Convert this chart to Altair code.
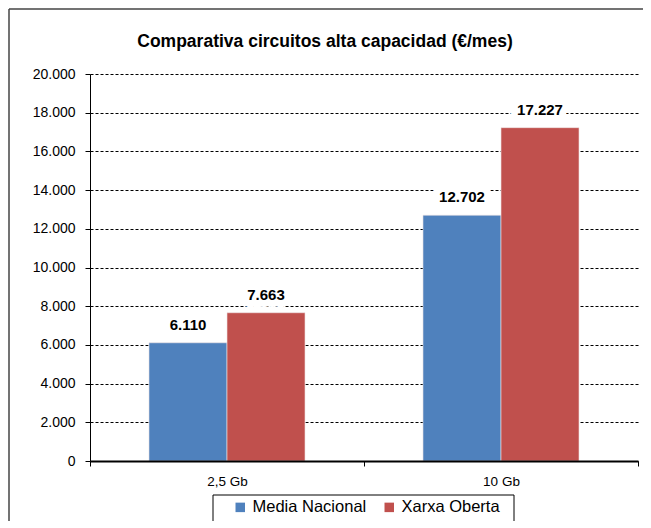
import altair as alt
import pandas as pd

categories = ["2,5 Gb", "10 Gb"]
series = ["Media Nacional", "Xarxa Oberta"]
media_nacional = [6110, 12702]
xarxa_oberta = [7663, 17227]
colors = ["#4F81BD", "#C0504D"]
y_ticks = [0, 2000, 4000, 6000, 8000, 10000, 12000, 14000, 16000, 18000, 20000]
title_text = "Comparativa circuitos alta capacidad (€/mes)"

rows = []
for i, c in enumerate(categories):
    rows.append({"cat": c, "serie": series[0], "valor": media_nacional[i]})
    rows.append({"cat": c, "serie": series[1], "valor": xarxa_oberta[i]})
df = pd.DataFrame(rows)

FONT = "Liberation Sans"
W, H = 548, 387
fmt = "replace(format(datum.valor, ','), ',', '.')"

x_enc = alt.X(
    "cat:N", sort=categories,
    scale=alt.Scale(paddingInner=0, paddingOuter=0),
    axis=alt.Axis(title=None, labelAngle=0, tickBand="extent", grid=False,
                  domainColor="black", domainWidth=2, tickColor="black",
                  tickSize=5, tickWidth=1, labelPadding=8, labelFontSize=13.5,
                  labelColor="black", labelFont=FONT, zindex=1),
)
xo_enc = alt.XOffset("serie:N", sort=series,
                     scale=alt.Scale(paddingInner=0, paddingOuter=0.756))
y_enc = alt.Y(
    "valor:Q",
    scale=alt.Scale(domain=[0, 20000], nice=False),
    axis=alt.Axis(values=y_ticks, tickCount=20, title=None, labelOverlap=False,
                  labelExpr="replace(format(datum.value, ','), ',', '.')",
                  grid=True, gridColor="black", gridDash=[3, 2], gridWidth=1,
                  domainColor="black", domainWidth=1, tickColor="black",
                  tickSize=5, labelPadding=10, labelFontSize=14,
                  labelColor="black", labelFont=FONT),
)

base = alt.Chart(df).encode(x=x_enc, xOffset=xo_enc, y=y_enc)

bars = base.mark_bar(stroke="#f0e6e6", strokeWidth=0.6).encode(
    color=alt.Color(
        "serie:N", sort=series,
        scale=alt.Scale(domain=series, range=colors),
        legend=alt.Legend(title=None, orient="none", legendX=142, legendY=425,
                          direction="horizontal", symbolType="square",
                          symbolSize=90, symbolStrokeWidth=0,
                          labelFontSize=16.5, labelFont=FONT, labelColor="black",
                          columnPadding=14, labelOffset=4, padding=0),
    ),
)

halo = base.transform_calculate(label=fmt).mark_text(
    dy=-10, baseline="bottom", fontSize=15, fontWeight="bold", font=FONT,
    stroke="white", strokeWidth=14, strokeJoin="round", color="white",
).encode(text="label:N")

labels = base.transform_calculate(label=fmt).mark_text(
    dy=-10, baseline="bottom", fontSize=15, fontWeight="bold", font=FONT,
    color="black",
).encode(text="label:N")

one = pd.DataFrame({"t": [title_text]})
frame_top = alt.Chart(one).mark_rule(stroke="#444444", strokeWidth=1.5).encode(
    x=alt.value(-81), x2=alt.value(553), y=alt.value(-65)
)
frame_left = alt.Chart(one).mark_rule(stroke="#444444", strokeWidth=1.5).encode(
    x=alt.value(-81), y=alt.value(-65), y2=alt.value(450)
)
legend_box = alt.Chart(one).mark_rect(fillOpacity=0, stroke="black", strokeWidth=1).encode(
    x=alt.value(123), x2=alt.value(424), y=alt.value(421), y2=alt.value(448)
)
title = alt.Chart(one).mark_text(
    fontSize=17.5, fontWeight="bold", font=FONT, color="black",
    align="center", baseline="middle",
).encode(x=alt.value(235), y=alt.value(-32), text="t:N")

chart = alt.layer(frame_top, frame_left, bars, halo, labels, legend_box, title).properties(
    width=W, height=H,
    autosize=alt.AutoSizeParams(type="none"),
    padding={"left": 82, "top": 66, "right": 5, "bottom": 60},
).configure_view(stroke=None)

chart.save("out.html", embed_options={"renderer": "svg", "actions": False})
